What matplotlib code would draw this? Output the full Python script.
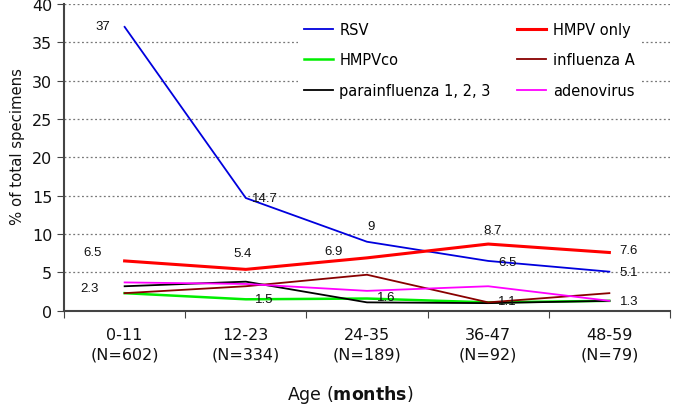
import matplotlib.pyplot as plt

plt.rcParams['font.family'] = ['DejaVu Sans']
plt.rcParams['mathtext.fontset'] = 'custom'
plt.rcParams['mathtext.rm'] = 'DejaVu Sans'
plt.rcParams['mathtext.bf'] = 'DejaVu Sans:bold'

age_groups = ['0-11\n(N=602)', '12-23\n(N=334)', '24-35\n(N=189)', '36-47\n(N=92)', '48-59\n(N=79)']
rsv = [37, 14.7, 9, 6.5, 5.1]
hmpv_only = [6.5, 5.4, 6.9, 8.7, 7.6]
hmpv_co = [2.3, 1.5, 1.6, 1.1, 1.3]
influenza_a = [2.3, 3.2, 4.7, 1.1, 2.3]
parainfluenza = [3.2, 3.8, 1.1, 1.0, 1.3]
adenovirus = [3.7, 3.5, 2.6, 3.2, 1.3]

x = [0.5, 1.5, 2.5, 3.5, 4.5]

fig, ax = plt.subplots(figsize=(6.74, 4.06), dpi=100)
fig.subplots_adjust(left=0.095, right=0.994, bottom=0.232, top=0.988)

ax.plot(x, rsv, color='#0000dd', lw=1.3, label='RSV')
ax.plot(x, hmpv_co, color='#00ee00', lw=1.8, label='HMPVco')
ax.plot(x, parainfluenza, color='black', lw=1.3, label='parainfluenza 1, 2, 3')
ax.plot(x, hmpv_only, color='#ff0000', lw=2.2, label='HMPV only')
ax.plot(x, influenza_a, color='#880000', lw=1.3, label='influenza A')
ax.plot(x, adenovirus, color='#ff00ff', lw=1.3, label='adenovirus')

# value labels (series, index, offset in points)
labels = [
    (rsv, 0, (-16, 1)), (rsv, 1, (14, 0)), (rsv, 2, (3, 11)), (rsv, 3, (14, -1)), (rsv, 4, (14, 0)),
    (hmpv_only, 0, (-23, 6.5)), (hmpv_only, 1, (-2, 12)), (hmpv_only, 2, (-24, 5)), (hmpv_only, 3, (3, 10)), (hmpv_only, 4, (14, 2)),
    (hmpv_co, 0, (-25, 3.5)), (hmpv_co, 1, (13, 0)), (hmpv_co, 2, (14, 1)), (hmpv_co, 3, (14, 1)), (hmpv_co, 4, (14, 0)),
]
for series, i, off in labels:
    ax.annotate(f'{series[i]:g}', (x[i], series[i]), xytext=off, textcoords='offset points',
                ha='center', va='center', fontsize=9.5, family='Liberation Sans', color='#111111')

ax.set_xlim(0, 5)
ax.set_ylim(0, 40)
ax.set_yticks(range(0, 41, 5))
ax.set_xticks(range(0, 6))
ax.set_xticklabels([])
ax.set_xticks(x, minor=True)
ax.set_xticklabels(age_groups, minor=True, fontsize=11.5, linespacing=1.35, color='#111111')
ax.tick_params(axis='x', which='minor', length=0, pad=12)
ax.tick_params(axis='x', which='major', length=5, color='#444444')
ax.tick_params(axis='y', labelsize=11.5, length=5, color='#444444', labelcolor='#111111')

ax.grid(axis='y', linestyle=(0, (1.5, 2)), color='#777777', lw=0.9)
ax.set_axisbelow(True)
for s in ['top', 'right']:
    ax.spines[s].set_visible(False)
for s in ['left', 'bottom']:
    ax.spines[s].set_color('#444444')
    ax.spines[s].set_linewidth(1.5)

ax.set_ylabel('% of total specimens', fontsize=10.7, color='#111111')
ax.yaxis.set_label_coords(-0.064, 0.54)
ax.set_xlabel(r'Age ($\mathbf{months}$)', fontsize=12.5, color='#111111')
ax.xaxis.set_label_coords(0.472, -0.235)

leg = ax.legend(ncol=2, loc='upper left', bbox_to_anchor=(0.386, 0.961), frameon=True,
                edgecolor='none', facecolor='white', framealpha=1, fontsize=10.5,
                handlelength=2.0, handletextpad=0.45, columnspacing=1.8,
                labelspacing=1.07, borderaxespad=0)

plt.savefig('out.png', dpi=100)
